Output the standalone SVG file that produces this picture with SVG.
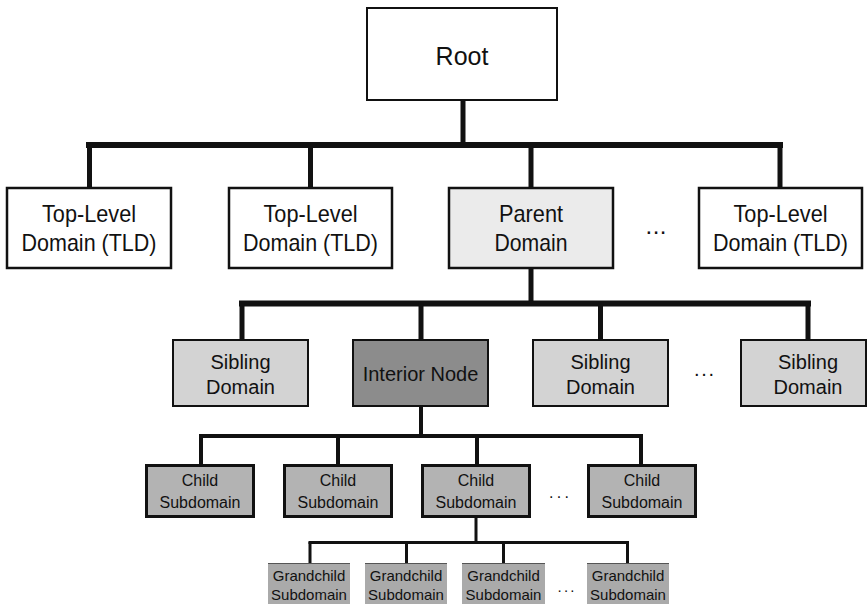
<svg xmlns="http://www.w3.org/2000/svg" width="868" height="604" viewBox="0 0 868 604">
<style>
text{font-family:"Liberation Sans",Arial,sans-serif;fill:#111;text-anchor:middle}
.box{stroke:#111}
.tld{fill:#fff;stroke-width:2.5}
.par{fill:#ebebeb;stroke-width:2.5}
.sib{fill:#d3d3d3;stroke-width:2}
.int{fill:#8c8c8c;stroke-width:2}
.chd{fill:#b3b3b3;stroke-width:3}
.gc{fill:#aaaaaa}
.gct{stroke:#555;stroke-width:1}
.f25{font-size:25px}
.f24{font-size:24px}
.f20{font-size:20px}
.f16{font-size:16px}
.f15{font-size:15px}
.dots{letter-spacing:2px}
.c{fill:none;stroke:#111;stroke-linecap:butt}
</style>
<rect width="868" height="604" fill="#fff"/>
<g id="connectors">
<path class="c" stroke-width="5" d="M463 101V145"/>
<path class="c" stroke-width="6" d="M86 145H783"/>
<path class="c" stroke-width="5" d="M89.5 145V188M310.5 145V188M531 145V188M780 145V188"/>
<path class="c" stroke-width="5" d="M531 269V304"/>
<path class="c" stroke-width="6" d="M239 303.5H811"/>
<path class="c" stroke-width="5" d="M242 303V340M421 303V340M600.5 303V340M808 303V340"/>
<path class="c" stroke-width="4" d="M421 407V436"/>
<path class="c" stroke-width="4" d="M199 436H643"/>
<path class="c" stroke-width="4" d="M201 436V465M338 436V465M477 436V465M641 436V465"/>
<path class="c" stroke-width="3" d="M476 518V543"/>
<path class="c" stroke-width="3" d="M308.5 542.5H629"/>
<path class="c" stroke-width="3" d="M310 542V564M406.5 542V564M503.5 542V564M627.5 542V564"/>
</g>
<g id="root">
<rect class="box tld" x="367" y="8" width="190" height="92" style="stroke-width:2"/>
<text class="f25" x="462" y="65">Root</text>
</g>
<g id="tld1">
<rect class="box tld" x="7" y="188" width="164" height="80"/>
<text class="f24" x="89" y="222" textLength="94" lengthAdjust="spacingAndGlyphs">Top-Level</text>
<text class="f24" x="89" y="251" textLength="135" lengthAdjust="spacingAndGlyphs">Domain (TLD)</text>
</g>
<g id="tld2">
<rect class="box tld" x="229" y="188" width="163" height="80"/>
<text class="f24" x="310.5" y="222" textLength="94" lengthAdjust="spacingAndGlyphs">Top-Level</text>
<text class="f24" x="310.5" y="251" textLength="135" lengthAdjust="spacingAndGlyphs">Domain (TLD)</text>
</g>
<g id="parent">
<rect class="box par" x="449" y="188" width="164" height="80"/>
<text class="f24" x="531" y="222" textLength="64" lengthAdjust="spacingAndGlyphs">Parent</text>
<text class="f24" x="531" y="251" textLength="73" lengthAdjust="spacingAndGlyphs">Domain</text>
</g>
<g id="ellipsis-tld"><text class="f24" x="656" y="234" textLength="21" lengthAdjust="spacing">...</text></g>
<g id="tld4">
<rect class="box tld" x="699" y="188" width="163" height="80"/>
<text class="f24" x="780.5" y="222" textLength="94" lengthAdjust="spacingAndGlyphs">Top-Level</text>
<text class="f24" x="780.5" y="251" textLength="135" lengthAdjust="spacingAndGlyphs">Domain (TLD)</text>
</g>
<g id="sibling1">
<rect class="box sib" x="173" y="340" width="135" height="66"/>
<text class="f20" x="240.5" y="369">Sibling</text>
<text class="f20" x="240.5" y="394">Domain</text>
</g>
<g id="interior">
<rect class="box int" x="353" y="340" width="135" height="66"/>
<text class="f20" x="420.5" y="381">Interior Node</text>
</g>
<g id="sibling3">
<rect class="box sib" x="533" y="340" width="135" height="66"/>
<text class="f20" x="600.5" y="369">Sibling</text>
<text class="f20" x="600.5" y="394">Domain</text>
</g>
<g id="ellipsis-sib"><text class="f20" x="704" y="376" textLength="20" lengthAdjust="spacing">...</text></g>
<g id="sibling4">
<rect class="box sib" x="741" y="340" width="125" height="66"/>
<text class="f20" x="808" y="369">Sibling</text>
<text class="f20" x="808" y="394">Domain</text>
</g>
<g id="child1">
<rect class="box chd" x="146.5" y="465.5" width="107" height="51"/>
<text class="f16" x="200" y="486">Child</text>
<text class="f16" x="200" y="508">Subdomain</text>
</g>
<g id="child2">
<rect class="box chd" x="284.5" y="465.5" width="107" height="51"/>
<text class="f16" x="338" y="486">Child</text>
<text class="f16" x="338" y="508">Subdomain</text>
</g>
<g id="child3">
<rect class="box chd" x="422.5" y="465.5" width="107" height="51"/>
<text class="f16" x="476" y="486">Child</text>
<text class="f16" x="476" y="508">Subdomain</text>
</g>
<g id="ellipsis-child"><text class="f16" x="559" y="498" textLength="20" lengthAdjust="spacing">...</text></g>
<g id="child4">
<rect class="box chd" x="588.5" y="465.5" width="107" height="51"/>
<text class="f16" x="642" y="486">Child</text>
<text class="f16" x="642" y="508">Subdomain</text>
</g>
<g id="grandchild1">
<rect class="gc" x="268" y="563" width="82" height="45"/>
<path class="gct" d="M268 563.5H350"/>
<text class="f15" x="309" y="581">Grandchild</text>
<text class="f15" x="309" y="600">Subdomain</text>
</g>
<g id="grandchild2">
<rect class="gc" x="365" y="563" width="82" height="45"/>
<path class="gct" d="M365 563.5H447"/>
<text class="f15" x="406" y="581">Grandchild</text>
<text class="f15" x="406" y="600">Subdomain</text>
</g>
<g id="grandchild3">
<rect class="gc" x="462" y="563" width="83" height="45"/>
<path class="gct" d="M462 563.5H545"/>
<text class="f15" x="503.5" y="581">Grandchild</text>
<text class="f15" x="503.5" y="600">Subdomain</text>
</g>
<g id="ellipsis-gc"><text class="f15" x="566" y="592" textLength="17" lengthAdjust="spacing">...</text></g>
<g id="grandchild4">
<rect class="gc" x="587" y="563" width="82" height="45"/>
<path class="gct" d="M587 563.5H669"/>
<text class="f15" x="628" y="581">Grandchild</text>
<text class="f15" x="628" y="600">Subdomain</text>
</g>
</svg>
